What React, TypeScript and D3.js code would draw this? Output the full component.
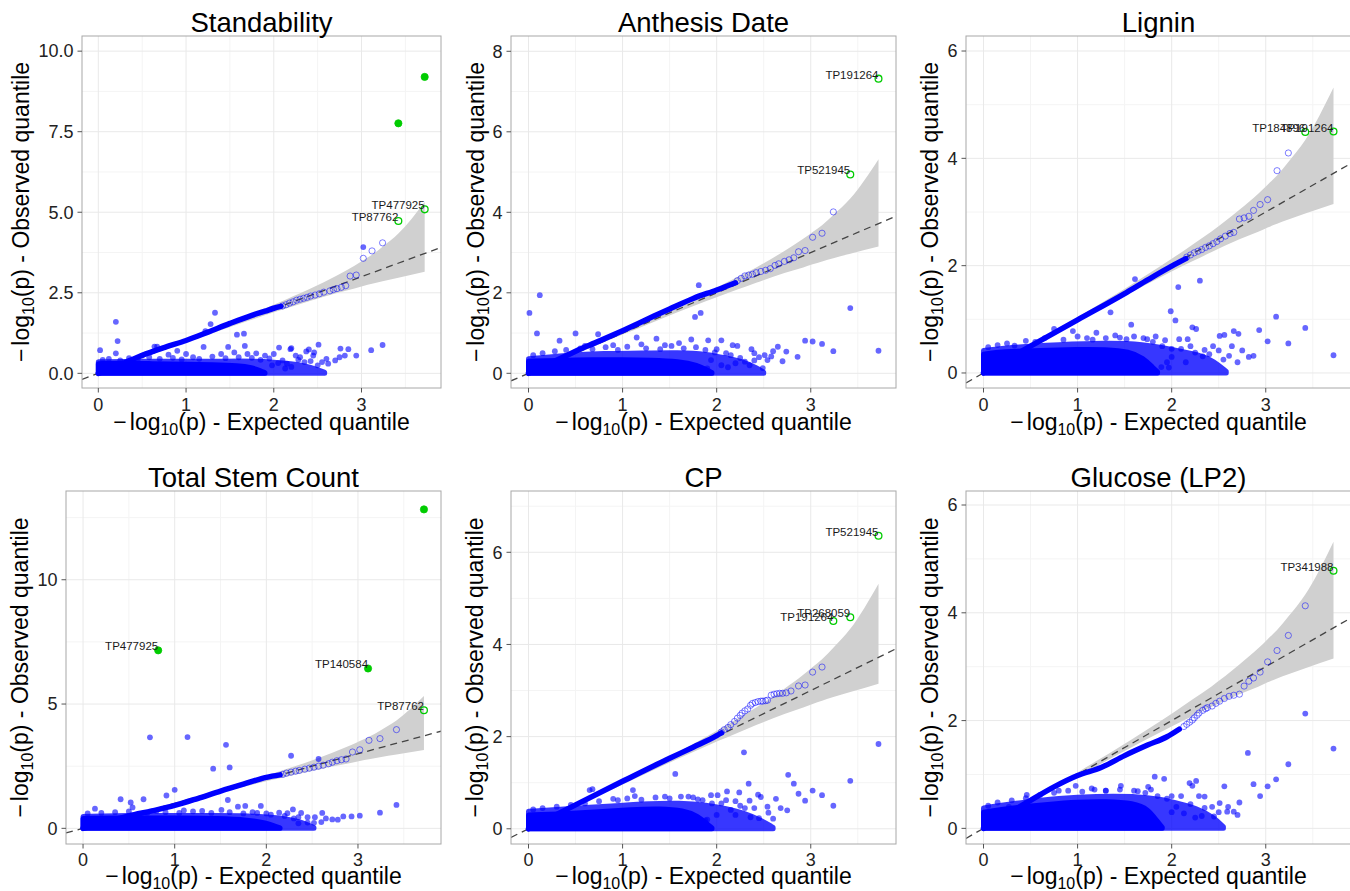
import React from 'react';
import * as d3 from 'd3';

type P = [number, number];
interface Hi { x: number; y: number; filled: boolean; label: string }

const panelTitles = ['Standability', 'Anthesis Date', 'Lignin', 'Total Stem Count', 'CP', 'Glucose (LP2)'];
const xTicks = [0, 1, 2, 3];
const xMinor = [0.5, 1.5, 2.5, 3.5];
const yTickSets = [[0, 2.5, 5, 7.5, 10], [0, 2, 4, 6, 8], [0, 2, 4, 6], [0, 5, 10], [0, 2, 4, 6], [0, 2, 4, 6]];
const yMinorSets = [[1.25, 3.75, 6.25, 8.75], [1, 3, 5, 7], [1, 3, 5], [2.5, 7.5, 12.5], [1, 3, 5, 7], [1, 3, 5]];
const yTickDecimals = [1, 0, 0, 0, 0, 0];

// 95% band of expected quantiles
const bandX = [0, 0.3, 0.72, 1.02, 1.24, 1.42, 1.72, 2.02, 2.22, 2.42, 2.72, 2.92, 3.02, 3.12, 3.24, 3.42, 3.72];
const bandLower = [0, 0.283, 0.693, 0.98, 1.19, 1.36, 1.64, 1.91, 2.08, 2.25, 2.49, 2.63, 2.71, 2.78, 2.86, 2.97, 3.15];
const bandUpper = [0, 0.317, 0.747, 1.06, 1.29, 1.48, 1.81, 2.15, 2.39, 2.63, 3.04, 3.34, 3.51, 3.68, 3.93, 4.34, 5.32];

// ---- Standability
const standCurve: P[] = [[0, 0], [0.25, 0.27], [0.5, 0.56], [0.75, 0.8], [1.0, 1.02], [1.25, 1.28], [1.5, 1.55], [1.75, 1.8], [1.9, 1.93], [2.0, 2.02], [2.08, 2.08]];
const standTail: P[] = [[2.1, 2.09], [2.14, 2.13], [2.18, 2.18], [2.22, 2.22], [2.26, 2.27], [2.3, 2.3], [2.34, 2.33], [2.38, 2.36], [2.42, 2.4], [2.47, 2.43], [2.52, 2.47], [2.57, 2.52], [2.64, 2.56], [2.68, 2.6], [2.72, 2.63], [2.77, 2.67], [2.82, 2.72], [2.87, 3.02], [2.94, 3.05], [3.02, 3.57], [3.12, 3.8], [3.24, 4.05]];
const standScatter: P[] = [[0.2, 1.6], [0.22, 1.0], [0.02, 0.72], [0.2, 0.62], [0.64, 0.83], [0.67, 0.83], [1.33, 1.88], [1.28, 1.53], [1.22, 1.31], [1.58, 1.2], [1.66, 1.23], [1.67, 0.85], [1.2, 0.82], [1.48, 0.82], [2.06, 0.8], [2.2, 0.78], [2.4, 0.74], [2.51, 0.89], [2.46, 0.65], [2.76, 0.77], [2.85, 0.75], [2.81, 0.55], [2.94, 0.55], [3.11, 0.72], [3.24, 0.88], [2.13, 0.15], [2.19, 0.75], [2.37, 0.68], [2.3, 0.5], [2.6, 0.45], [2.7, 0.4], [2.55, 0.35], [2.35, 0.35], [2.25, 0.55], [2.0, 0.6], [1.9, 0.55], [1.8, 0.62], [1.7, 0.6], [1.55, 0.65], [1.4, 0.6], [1.0, 0.6], [0.8, 0.58], [0.5, 0.55], [0.9, 0.7], [3.02, 3.92],
  [0.05, 0.42], [0.12, 0.45], [0.25, 0.4], [0.35, 0.47], [0.45, 0.44], [0.58, 0.5], [0.7, 0.45], [0.85, 0.48], [0.95, 0.43], [1.08, 0.5], [1.15, 0.45], [1.3, 0.52], [1.45, 0.47], [1.6, 0.5], [1.75, 0.48], [1.85, 0.42], [1.95, 0.46], [2.1, 0.4], [2.15, 0.3], [2.28, 0.42], [2.42, 0.38], [2.5, 0.25], [2.62, 0.3], [2.75, 0.5], [2.45, 0.55], [2.05, 0.32], [1.98, 0.25], [2.2, 0.2]];
const standCore: P[] = [[0, 0.3], [0.3, 0.32], [0.6, 0.3], [1.0, 0.28], [1.3, 0.27], [1.6, 0.24], [1.75, 0.18], [1.85, 0.08], [1.9, 0.02]];
const standCloud: P[] = [[0, 0.36], [0.5, 0.38], [1.0, 0.37], [1.5, 0.38], [1.8, 0.38], [2.0, 0.35], [2.2, 0.3], [2.35, 0.24], [2.5, 0.12], [2.58, 0.03]];
const standHighlights: Hi[] = [
  { x: 3.42, y: 7.76, filled: true, label: '' },
  { x: 3.72, y: 9.2, filled: true, label: '' },
  { x: 3.42, y: 4.73, filled: false, label: 'TP87762' },
  { x: 3.72, y: 5.09, filled: false, label: 'TP477925' },
];

// ---- Anthesis Date
const antCurve: P[] = [[0, 0], [0.25, 0.27], [0.5, 0.55], [0.75, 0.8], [1.0, 1.06], [1.25, 1.33], [1.5, 1.6], [1.75, 1.86], [2.0, 2.07], [2.2, 2.25]];
const antTail: P[] = [[2.22, 2.3], [2.26, 2.36], [2.3, 2.42], [2.34, 2.44], [2.38, 2.46], [2.42, 2.5], [2.47, 2.53], [2.52, 2.56], [2.57, 2.6], [2.62, 2.68], [2.66, 2.72], [2.72, 2.78], [2.77, 2.82], [2.82, 2.87], [2.87, 3.02], [2.94, 3.05], [3.02, 3.38], [3.12, 3.48], [3.24, 4.01]];
const antScatter: P[] = [[0.01, 1.5], [0.12, 1.94], [0.09, 0.99], [0.33, 0.81], [0.5, 0.99], [0.74, 0.97], [1.15, 0.89], [1.36, 0.86], [1.81, 2.19], [1.77, 1.4], [1.83, 1.5], [1.73, 0.84], [1.91, 0.82], [2.05, 0.82], [2.17, 0.7], [2.22, 0.68], [2.37, 0.6], [2.51, 0.45], [2.65, 0.66], [2.74, 0.54], [2.86, 0.41], [2.94, 0.81], [3.02, 0.79], [3.12, 0.73], [3.24, 0.55], [3.42, 1.62], [3.72, 0.56], [2.49, 0.13], [2.12, 0.15], [2.35, 0.2], [2.54, 0.33], [1.94, 0.33], [2.3, 0.29], [1.6, 0.75], [1.45, 0.7], [1.2, 0.72], [0.9, 0.7], [0.6, 0.68], [2.0, 0.6], [2.4, 0.5], [2.6, 0.55], [2.1, 0.5],
  [0.05, 0.45], [0.15, 0.5], [0.28, 0.55], [0.4, 0.58], [0.55, 0.62], [0.68, 0.6], [0.82, 0.65], [0.95, 0.58], [1.05, 0.66], [1.25, 0.62], [1.4, 0.6], [1.52, 0.68], [1.65, 0.62], [1.78, 0.65], [1.88, 0.58], [1.98, 0.52], [2.15, 0.45], [2.25, 0.38], [2.4, 0.32], [2.45, 0.4], [2.58, 0.42], [2.7, 0.3], [2.2, 0.25], [2.05, 0.2], [1.9, 0.12]];
const antCore: P[] = [[0, 0.3], [0.3, 0.32], [0.7, 0.34], [1.0, 0.34], [1.3, 0.33], [1.6, 0.3], [1.8, 0.2], [1.9, 0.08], [1.95, 0.02]];
const antCloud: P[] = [[0, 0.36], [0.4, 0.45], [0.8, 0.5], [1.2, 0.5], [1.6, 0.52], [1.9, 0.48], [2.1, 0.38], [2.3, 0.28], [2.42, 0.14], [2.5, 0.03]];
const antHighlights: Hi[] = [
  { x: 3.42, y: 4.94, filled: false, label: 'TP521945' },
  { x: 3.72, y: 7.32, filled: false, label: 'TP191264' },
];

// ---- Lignin
const ligCurve: P[] = [[0, 0], [0.5, 0.5], [1.0, 0.99], [1.5, 1.48], [1.75, 1.74], [2.0, 1.99], [2.15, 2.13]];
const ligTail: P[] = [[2.16, 2.16], [2.2, 2.2], [2.24, 2.24], [2.28, 2.27], [2.32, 2.3], [2.36, 2.34], [2.4, 2.37], [2.44, 2.41], [2.48, 2.45], [2.52, 2.5], [2.57, 2.55], [2.62, 2.6], [2.66, 2.62], [2.72, 2.87], [2.77, 2.89], [2.82, 2.92], [2.87, 3.03], [2.94, 3.14], [3.02, 3.23], [3.12, 3.77], [3.24, 4.1]];
const ligScatter: P[] = [[1.61, 1.75], [2.07, 1.6], [2.3, 1.72], [1.35, 1.13], [1.99, 1.15], [2.04, 0.98], [1.57, 0.9], [3.11, 1.05], [3.42, 0.84], [2.93, 0.8], [3.02, 0.59], [3.24, 0.55], [3.72, 0.33], [2.22, 0.85], [2.26, 0.82], [2.66, 0.78], [2.71, 0.73], [2.56, 0.71], [2.51, 0.69], [2.61, 0.32], [2.75, 0.42], [2.82, 0.3], [2.87, 0.32], [2.64, 0.5], [2.44, 0.5], [2.35, 0.43], [2.33, 0.31], [2.08, 0.63], [2.17, 0.63], [1.93, 0.61], [1.83, 0.68], [1.74, 0.63], [1.52, 0.63], [1.63, 0.03], [1.89, 0.11], [1.97, 0.1], [0.33, 0.51], [0.75, 0.82], [0.95, 0.78], [1.16, 0.62], [1.3, 0.65], [2.0, 0.45], [2.2, 0.5], [1.2, 0.75],
  [0.05, 0.48], [0.15, 0.52], [0.25, 0.55], [0.45, 0.6], [0.55, 0.58], [0.65, 0.65], [0.85, 0.62], [1.0, 0.68], [1.1, 0.65], [1.4, 0.7], [1.45, 0.66], [1.6, 0.68], [1.7, 0.65], [1.8, 0.58], [1.9, 0.5], [2.1, 0.45], [2.25, 0.38], [2.4, 0.35], [2.5, 0.42], [2.55, 0.25], [2.7, 0.2], [2.0, 0.3], [2.15, 0.2], [1.95, 0.2]];
const ligCore: P[] = [[0, 0.35], [0.2, 0.4], [0.6, 0.42], [1.0, 0.44], [1.3, 0.44], [1.55, 0.4], [1.7, 0.28], [1.8, 0.1], [1.85, 0.02]];
const ligCloud: P[] = [[0, 0.42], [0.3, 0.48], [0.8, 0.53], [1.3, 0.56], [1.7, 0.54], [2.0, 0.44], [2.3, 0.34], [2.45, 0.22], [2.58, 0.03]];
const ligHighlights: Hi[] = [
  { x: 3.42, y: 4.49, filled: false, label: 'TP184896' },
  { x: 3.72, y: 4.5, filled: false, label: 'TP191264' },
];

// ---- Total Stem Count
const tscCurve: P[] = [[0, 0], [0.25, 0.25], [0.5, 0.5], [0.75, 0.7], [1.0, 0.92], [1.25, 1.2], [1.5, 1.5], [1.75, 1.78], [2.0, 2.05], [2.15, 2.15]];
const tscTail: P[] = [[2.18, 2.17], [2.22, 2.22], [2.27, 2.26], [2.32, 2.3], [2.36, 2.33], [2.42, 2.38], [2.47, 2.42], [2.52, 2.46], [2.57, 2.5], [2.62, 2.54], [2.68, 2.6], [2.72, 2.66], [2.77, 2.72], [2.82, 2.76], [2.87, 2.79], [2.94, 3.07], [3.02, 3.16], [3.12, 3.54], [3.24, 3.61], [3.42, 3.97]];
const tscScatter: P[] = [[0.73, 3.66], [1.14, 3.67], [1.56, 3.36], [1.42, 2.4], [1.6, 2.45], [2.27, 2.92], [2.57, 2.79], [0.91, 1.32], [1.0, 1.55], [0.66, 1.17], [0.41, 1.17], [0.52, 1.04], [0.54, 0.84], [0.13, 0.79], [1.58, 1.14], [1.69, 0.87], [1.77, 0.9], [1.94, 0.9], [1.51, 0.74], [2.29, 0.76], [2.38, 0.62], [2.53, 0.45], [2.61, 0.62], [2.45, 0.23], [2.52, 0.22], [2.72, 0.36], [2.78, 0.35], [2.84, 0.48], [2.93, 0.48], [3.02, 0.51], [3.24, 0.63], [3.42, 0.94], [2.14, 0.63], [2.23, 0.61], [1.3, 0.7], [1.1, 0.72], [0.8, 0.7], [2.0, 0.6], [2.35, 0.45], [1.85, 0.65],
  [0.05, 0.6], [0.2, 0.62], [0.35, 0.65], [0.5, 0.68], [0.7, 0.62], [0.9, 0.65], [1.05, 0.62], [1.2, 0.68], [1.4, 0.62], [1.6, 0.65], [1.75, 0.6], [1.9, 0.62], [2.05, 0.55], [2.2, 0.5], [2.3, 0.4], [2.45, 0.45], [2.6, 0.25], [2.65, 0.4], [2.35, 0.2]];
const tscCore: P[] = [[0, 0.4], [0.5, 0.42], [1.0, 0.42], [1.5, 0.4], [1.8, 0.34], [2.0, 0.22], [2.1, 0.08], [2.15, 0.02]];
const tscCloud: P[] = [[0, 0.48], [0.5, 0.52], [1.0, 0.52], [1.5, 0.52], [1.9, 0.5], [2.2, 0.4], [2.38, 0.26], [2.52, 0.03]];
const tscHighlights: Hi[] = [
  { x: 0.82, y: 7.16, filled: true, label: 'TP477925' },
  { x: 3.11, y: 6.43, filled: true, label: 'TP140584' },
  { x: 3.72, y: 12.83, filled: true, label: '' },
  { x: 3.72, y: 4.75, filled: false, label: 'TP87762' },
];

// ---- CP
const cpCurve: P[] = [[0, 0], [0.5, 0.52], [1.0, 1.03], [1.5, 1.53], [1.75, 1.77], [2.0, 2.02], [2.05, 2.08]];
const cpTail: P[] = [[2.05, 2.1], [2.08, 2.15], [2.12, 2.2], [2.15, 2.26], [2.19, 2.33], [2.22, 2.4], [2.25, 2.46], [2.27, 2.51], [2.3, 2.56], [2.33, 2.6], [2.36, 2.68], [2.38, 2.72], [2.41, 2.74], [2.44, 2.76], [2.47, 2.77], [2.49, 2.77], [2.52, 2.78], [2.54, 2.79], [2.58, 2.9], [2.61, 2.92], [2.64, 2.93], [2.67, 2.94], [2.7, 2.94], [2.74, 2.95], [2.79, 2.99], [2.87, 3.1], [2.94, 3.12], [3.02, 3.4], [3.12, 3.51]];
const cpScatter: P[] = [[3.72, 1.84], [2.29, 1.66], [3.42, 1.04], [1.56, 1.19], [2.76, 1.17], [2.82, 0.98], [2.87, 0.76], [2.34, 0.98], [3.02, 0.83], [3.12, 0.73], [2.94, 0.61], [3.24, 0.5], [0.65, 0.84], [0.68, 0.86], [1.11, 0.84], [1.13, 0.71], [2.11, 0.81], [2.24, 0.79], [2.44, 0.74], [2.47, 0.69], [2.63, 0.65], [2.68, 0.45], [2.36, 0.25], [2.45, 0.23], [2.54, 0.48], [1.94, 0.73], [2.01, 0.73], [1.8, 0.64], [1.88, 0.18], [2.15, 0.41], [2.3, 0.45], [2.35, 0.61], [1.7, 0.7], [1.45, 0.7], [0.9, 0.65], [2.05, 0.55], [2.2, 0.6],
  [0.05, 0.42], [0.15, 0.45], [0.3, 0.48], [0.45, 0.52], [0.6, 0.55], [0.75, 0.6], [0.95, 0.62], [1.05, 0.66], [1.2, 0.63], [1.35, 0.68], [1.5, 0.66], [1.62, 0.7], [1.75, 0.68], [1.85, 0.62], [1.95, 0.55], [2.1, 0.62], [2.25, 0.5], [2.4, 0.45], [2.55, 0.35], [2.6, 0.22], [2.75, 0.4], [2.2, 0.3], [2.0, 0.3], [1.9, 0.2]];
const cpCore: P[] = [[0, 0.3], [0.3, 0.32], [0.7, 0.36], [1.1, 0.42], [1.4, 0.44], [1.65, 0.4], [1.8, 0.28], [1.9, 0.1], [1.95, 0.02]];
const cpCloud: P[] = [[0, 0.38], [0.4, 0.43], [0.9, 0.5], [1.3, 0.55], [1.6, 0.56], [1.9, 0.52], [2.1, 0.44], [2.3, 0.34], [2.48, 0.18], [2.6, 0.03]];
const cpHighlights: Hi[] = [
  { x: 3.24, y: 4.51, filled: false, label: 'TP191264' },
  { x: 3.42, y: 4.59, filled: false, label: 'TP268059' },
  { x: 3.72, y: 6.36, filled: false, label: 'TP521945' },
];

// ---- Glucose (LP2)
const gluCurve: P[] = [[0, 0], [0.5, 0.52], [0.75, 0.77], [1.0, 0.98], [1.25, 1.13], [1.5, 1.35], [1.75, 1.55], [1.95, 1.7], [2.08, 1.84]];
const gluTail: P[] = [[2.13, 1.89], [2.16, 1.93], [2.19, 1.97], [2.22, 2.01], [2.24, 2.05], [2.27, 2.1], [2.29, 2.14], [2.33, 2.19], [2.36, 2.22], [2.38, 2.24], [2.43, 2.27], [2.47, 2.32], [2.51, 2.36], [2.56, 2.41], [2.61, 2.45], [2.66, 2.47], [2.72, 2.49], [2.77, 2.64], [2.82, 2.73], [2.87, 2.79], [2.94, 2.9], [3.02, 3.09], [3.12, 3.3], [3.24, 3.58], [3.42, 4.13]];
const gluScatter: P[] = [[3.42, 2.13], [3.72, 1.48], [2.81, 1.4], [3.24, 1.19], [3.11, 0.91], [2.87, 0.82], [3.02, 0.78], [2.94, 0.6], [2.56, 0.78], [2.19, 0.84], [2.26, 0.88], [2.22, 0.79], [1.82, 0.96], [1.92, 0.92], [1.64, 0.69], [1.75, 0.77], [1.78, 0.72], [1.46, 0.79], [0.98, 0.79], [1.18, 0.72], [0.46, 0.62], [0.27, 0.4], [2.29, 0.6], [2.35, 0.59], [2.43, 0.4], [2.51, 0.47], [2.32, 0.23], [2.45, 0.22], [2.59, 0.31], [2.66, 0.31], [2.72, 0.48], [1.81, 0.04], [2.13, 0.28], [2.05, 0.4], [1.48, 0.08], [2.0, 0.6], [1.3, 0.7], [0.8, 0.7],
  [0.05, 0.42], [0.15, 0.48], [0.3, 0.52], [0.45, 0.56], [0.6, 0.62], [0.75, 0.66], [0.9, 0.7], [1.05, 0.68], [1.15, 0.74], [1.3, 0.7], [1.45, 0.72], [1.6, 0.7], [1.72, 0.66], [1.85, 0.6], [1.95, 0.55], [2.1, 0.6], [2.2, 0.45], [2.35, 0.38], [2.5, 0.3], [2.6, 0.4], [2.7, 0.25], [2.0, 0.3], [2.25, 0.2]];
const gluCore: P[] = [[0, 0.3], [0.3, 0.38], [0.7, 0.45], [1.0, 0.49], [1.3, 0.5], [1.6, 0.47], [1.75, 0.36], [1.85, 0.12], [1.9, 0.02]];
const gluCloud: P[] = [[0, 0.38], [0.4, 0.48], [0.8, 0.56], [1.2, 0.6], [1.6, 0.6], [1.9, 0.54], [2.1, 0.45], [2.3, 0.35], [2.45, 0.2], [2.55, 0.03]];
const gluHighlights: Hi[] = [
  { x: 3.72, y: 4.78, filled: false, label: 'TP341988' },
];

const panelData = [
  { curve: standCurve, tail: standTail, scatter: standScatter, core: standCore, cloud: standCloud, hi: standHighlights },
  { curve: antCurve, tail: antTail, scatter: antScatter, core: antCore, cloud: antCloud, hi: antHighlights },
  { curve: ligCurve, tail: ligTail, scatter: ligScatter, core: ligCore, cloud: ligCloud, hi: ligHighlights },
  { curve: tscCurve, tail: tscTail, scatter: tscScatter, core: tscCore, cloud: tscCloud, hi: tscHighlights },
  { curve: cpCurve, tail: cpTail, scatter: cpScatter, core: cpCore, cloud: cpCloud, hi: cpHighlights },
  { curve: gluCurve, tail: gluTail, scatter: gluScatter, core: gluCore, cloud: gluCloud, hi: gluHighlights },
];

// ---- layout (positions / scale ranges)
const X_DOMAIN: [number, number] = [-0.186, 3.906];
const layout = [
  { left: 82, right: 441, top: 36, bottom: 388, yDomain: [-0.455, 10.47], titleY: 32, ylabX: 28.5, xlabY: 430, xtickY: 410.5 },
  { left: 511, right: 896, top: 36, bottom: 388, yDomain: [-0.365, 8.38], titleY: 32, ylabX: 483.5, xlabY: 430, xtickY: 410.5 },
  { left: 966, right: 1351, top: 36, bottom: 388, yDomain: [-0.28, 6.28], titleY: 32, ylabX: 937.5, xlabY: 430, xtickY: 410.5 },
  { left: 66, right: 441, top: 491, bottom: 844, yDomain: [-0.63, 13.57], titleY: 486.5, ylabX: 27.5, xlabY: 884, xtickY: 866 },
  { left: 511, right: 896, top: 491, bottom: 844, yDomain: [-0.33, 7.33], titleY: 486.5, ylabX: 482.5, xlabY: 884, xtickY: 866 },
  { left: 966, right: 1351, top: 491, bottom: 844, yDomain: [-0.29, 6.26], titleY: 486.5, ylabX: 937.5, xlabY: 884, xtickY: 866 },
];

const FONT = '"Liberation Sans", Arial, Helvetica, sans-serif';
const BLUE = '#0000ff';
const GREEN = '#00cc00';

function AxisTitle({ word }: { word: string }) {
  return (
    <>
      <tspan>−</tspan>
      <tspan dx={3}>log</tspan>
      <tspan fontSize={16} dy={5}>10</tspan>
      <tspan dy={-5}>{`(p) - ${word} quantile`}</tspan>
    </>
  );
}

function Panel({ idx }: { idx: number }) {
  const cfg = layout[idx];
  const d = panelData[idx];
  const x = d3.scaleLinear().domain(X_DOMAIN).range([cfg.left, cfg.right]);
  const y = d3.scaleLinear().domain(cfg.yDomain).range([cfg.bottom, cfg.top]);
  const clipId = `clip${idx}`;
  const cx = (cfg.left + cfg.right) / 2;
  const cy = (cfg.top + cfg.bottom) / 2;
  const fmt = d3.format(`.${yTickDecimals[idx]}f`);

  const bandArea = d3
    .area<number>()
    .x((_, i) => x(bandX[i]))
    .y0((_, i) => y(bandLower[i]))
    .y1((_, i) => y(bandUpper[i]))
    .curve(d3.curveMonotoneX);

  const cloudArea = d3
    .area<P>()
    .x((p) => x(p[0]))
    .y0(() => y(0))
    .y1((p) => y(p[1]))
    .curve(d3.curveBasis);

  const line = d3
    .line<P>()
    .x((p) => x(p[0]))
    .y((p) => y(p[1]))
    .curve(d3.curveMonotoneX);

  return (
    <g>
      <defs>
        <clipPath id={clipId}>
          <rect x={cfg.left} y={cfg.top} width={cfg.right - cfg.left} height={cfg.bottom - cfg.top} />
        </clipPath>
      </defs>
      <rect x={cfg.left} y={cfg.top} width={cfg.right - cfg.left} height={cfg.bottom - cfg.top} fill="#ffffff" />
      <g clipPath={`url(#${clipId})`}>
        {xMinor.map((t) => (
          <line key={`xm${t}`} x1={x(t)} x2={x(t)} y1={cfg.top} y2={cfg.bottom} stroke="#f4f4f4" strokeWidth={1} />
        ))}
        {yMinorSets[idx].map((t) => (
          <line key={`ym${t}`} x1={cfg.left} x2={cfg.right} y1={y(t)} y2={y(t)} stroke="#f4f4f4" strokeWidth={1} />
        ))}
        {xTicks.map((t) => (
          <line key={`xg${t}`} x1={x(t)} x2={x(t)} y1={cfg.top} y2={cfg.bottom} stroke="#e9e9e9" strokeWidth={1} />
        ))}
        {yTickSets[idx].map((t) => (
          <line key={`yg${t}`} x1={cfg.left} x2={cfg.right} y1={y(t)} y2={y(t)} stroke="#e9e9e9" strokeWidth={1} />
        ))}
        <path d={bandArea(bandX) || ''} fill="#d0d0d0" />
        <line x1={x(X_DOMAIN[0])} y1={y(X_DOMAIN[0])} x2={x(X_DOMAIN[1])} y2={y(X_DOMAIN[1])} stroke="#444" strokeWidth={1.3} strokeDasharray="7,5" />
        <g opacity={0.78}>
          <path d={cloudArea(d.cloud) || ''} fill={BLUE} stroke={BLUE} strokeWidth={5} strokeLinejoin="round" />
        </g>
        <path d={cloudArea(d.core) || ''} fill={BLUE} stroke={BLUE} strokeWidth={5} strokeLinejoin="round" />
        {d.scatter.map((p, i) => (
          <circle key={`s${i}`} cx={x(p[0])} cy={y(p[1])} r={2.9} fill={BLUE} fillOpacity={0.6} />
        ))}
        <path d={line(d.curve) || ''} fill="none" stroke={BLUE} strokeWidth={5.5} strokeLinecap="round" />
        {d.tail.map((p, i) => (
          <circle key={`t${i}`} cx={x(p[0])} cy={y(p[1])} r={3.1} fill="none" stroke={BLUE} strokeOpacity={0.5} strokeWidth={1} />
        ))}
        {d.hi.map((h, i) => (
          <circle key={`h${i}`} cx={x(h.x)} cy={y(h.y)} r={h.filled ? 3.6 : 3.4}
            fill={h.filled ? GREEN : 'none'} stroke={GREEN} strokeWidth={h.filled ? 0.8 : 1.3} />
        ))}
        {d.hi.filter((h) => h.label).map((h, i) => (
          <text key={`l${i}`} x={x(h.x)} y={y(h.y)} textAnchor="end" fontSize={11.5} fill="#1a1a1a" fontFamily={FONT}>
            {h.label}
          </text>
        ))}
      </g>
      <rect x={cfg.left} y={cfg.top} width={cfg.right - cfg.left} height={cfg.bottom - cfg.top} fill="none" stroke="#a8a8a8" strokeWidth={1} />
      {yTickSets[idx].map((t) => (
        <g key={`yt${t}`}>
          <line x1={cfg.left - 4.5} x2={cfg.left} y1={y(t)} y2={y(t)} stroke="#555" strokeWidth={1} />
          <text x={cfg.left - 8.5} y={y(t)} dy="0.35em" textAnchor="end" fontSize={18} fill="#222" fontFamily={FONT}>
            {fmt(t)}
          </text>
        </g>
      ))}
      {xTicks.map((t) => (
        <g key={`xt${t}`}>
          <line x1={x(t)} x2={x(t)} y1={cfg.bottom} y2={cfg.bottom + 4.5} stroke="#555" strokeWidth={1} />
          <text x={x(t)} y={cfg.xtickY} textAnchor="middle" fontSize={18} fill="#222" fontFamily={FONT}>
            {t}
          </text>
        </g>
      ))}
      <text x={cx} y={cfg.titleY} textAnchor="middle" fontSize={27.5} fill="#000" fontFamily={FONT}>
        {panelTitles[idx]}
      </text>
      <text x={cx} y={cfg.xlabY} textAnchor="middle" fontSize={23} fill="#000" fontFamily={FONT}>
        <AxisTitle word="Expected" />
      </text>
      <text transform={`translate(${cfg.ylabX},${cy}) rotate(-90)`} textAnchor="middle" fontSize={23} fill="#000" fontFamily={FONT}>
        <AxisTitle word="Observed" />
      </text>
    </g>
  );
}

export default function App() {
  return (
    <svg width={1350} height={891} viewBox="0 0 1350 891"
      style={{ position: 'absolute', left: 0, top: 0, background: '#fff' }}>
      <rect x={0} y={0} width={1350} height={891} fill="#fff" />
      {panelTitles.map((_, i) => (
        <Panel key={i} idx={i} />
      ))}
    </svg>
  );
}
